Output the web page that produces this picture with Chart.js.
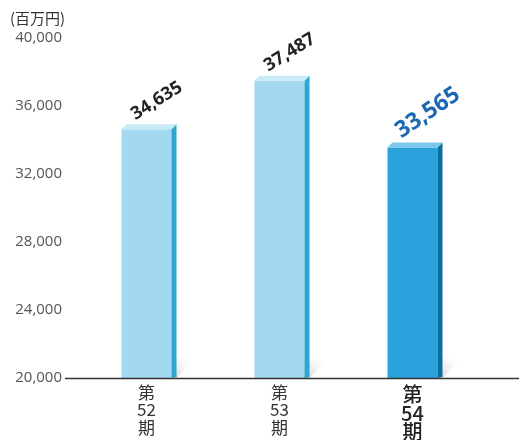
<!DOCTYPE html>
<html><head><meta charset="utf-8">
<script src="https://cdn.jsdelivr.net/npm/chart.js@4"></script>
<style>html,body{margin:0;padding:0;background:#fff}#wrap{position:relative;width:519px;height:440px}</style>
</head><body><div id="wrap"><canvas id="c" width="519" height="440"></canvas></div>
<script>
const categories = [["第","52","期"],["第","53","期"],["第","54","期"]];
const values = [34635, 37487, 33565];
const yTicks = [20000, 24000, 28000, 32000, 36000, 40000];
const unitLabel = "(百万円)";
const highlightIndex = 2;

const FONT = "'Noto Sans CJK JP','Noto Sans',sans-serif";
const NUMFONT = "'Open Sans','Noto Sans',sans-serif";
const TICKFONT = "'Open Sans','Noto Sans',sans-serif";
const frontCols = ["#a3d8f1","#a3d8f1","#2aa3dd"];
const sideCols = ["#2ea6cf","#2ea6cf","#0b6f9a"];
const topCols = ["#c8ebf8","#c8ebf8","#7cc8ec"];

const deco = {
  id:'deco',
  beforeDatasetsDraw(chart){
    const ctx = chart.ctx, meta = chart.getDatasetMeta(0);
    const base = chart.scales.y.getPixelForValue(20000);
    meta.data.forEach((b,i)=>{
      const right = b.x + b.width/2;
      const g = ctx.createLinearGradient(right, base, right+22, base-20);
      g.addColorStop(0,'#cfcfcf'); g.addColorStop(1,'rgba(255,255,255,0)');
      ctx.save();
      ctx.fillStyle = g;
      ctx.beginPath();
      ctx.moveTo(right, base);
      ctx.lineTo(right, base-19);
      ctx.lineTo(right+24, base-19);
      ctx.lineTo(right+5, base);
      ctx.closePath(); ctx.fill();
      ctx.restore();
    });
  },
  afterDatasetsDraw(chart){
    const ctx = chart.ctx, meta = chart.getDatasetMeta(0);
    const base = chart.scales.y.getPixelForValue(20000);
    const d = 5;
    meta.data.forEach((b,i)=>{
      const left = b.x - b.width/2, right = b.x + b.width/2, top = b.y;
      ctx.save();
      ctx.fillStyle = sideCols[i];
      ctx.beginPath();
      ctx.moveTo(right, top); ctx.lineTo(right+d, top-d); ctx.lineTo(right+d, base-1); ctx.lineTo(right, base);
      ctx.closePath(); ctx.fill();
      ctx.fillStyle = topCols[i];
      ctx.beginPath();
      ctx.moveTo(left, top); ctx.lineTo(left+d, top-d); ctx.lineTo(right+d, top-d); ctx.lineTo(right, top);
      ctx.closePath(); ctx.fill();
      // value label
      const hl = i===highlightIndex;
      ctx.translate(left+14, top-9);
      ctx.rotate(-(hl?34:32)*Math.PI/180);
      ctx.textAlign='left'; ctx.textBaseline='alphabetic';
      if(hl){ ctx.font = "bold 23px "+NUMFONT; ctx.fillStyle="#1c68b2"; }
      else { ctx.font = "bold 18px "+NUMFONT; ctx.fillStyle="#222"; }
      ctx.fillText(values[i].toLocaleString('en-US'),0,0);
      ctx.restore();
    });
    // axis line
    ctx.save();
    ctx.strokeStyle='#333'; ctx.lineWidth=1.5;
    ctx.beginPath(); ctx.moveTo(65, base+0.5); ctx.lineTo(519, base+0.5); ctx.stroke();
    // category labels
    ctx.textAlign='center'; ctx.textBaseline='middle';
    meta.data.forEach((b,i)=>{
      const hl = i===highlightIndex;
      ctx.font = (hl? "500 20px ":"17px ")+FONT;
      ctx.fillStyle = hl? "#222":"#333";
      const ys = hl? [394.5,413.5,431] : [393,410,428];
      categories[i].forEach((t,k)=>ctx.fillText(t, b.x, base+ys[k]-378));
    });
    // unit label
    ctx.font = "15px "+FONT; ctx.fillStyle="#333"; ctx.textAlign='left';
    ctx.fillText(unitLabel, 10, 18);
    ctx.restore();
  }
};

new Chart(document.getElementById('c'), {
  type:'bar',
  data:{ labels: categories.map(c=>c.join('')), datasets:[{ data: values, backgroundColor: frontCols, borderWidth:0, categoryPercentage:1, barPercentage:0.376 }]},
  options:{
    responsive:false, animation:false,
    layout:{ padding:{ top:38, right:40, bottom:62, left:0 } },
    plugins:{ legend:{display:false}, tooltip:{enabled:false} },
    scales:{
      x:{ display:false },
      y:{ min:20000, max:40000,
          afterBuildTicks(s){ s.ticks = yTicks.map(v=>({value:v})); },
          afterFit(s){ s.width = 80; },
          ticks:{ padding:18, color:'#555', font:{ size:15, family:TICKFONT }, callback:v=>v.toLocaleString('en-US') },
          grid:{ display:false, drawTicks:false }, border:{ display:false } }
    }
  },
  plugins:[deco]
});
</script></body></html>
